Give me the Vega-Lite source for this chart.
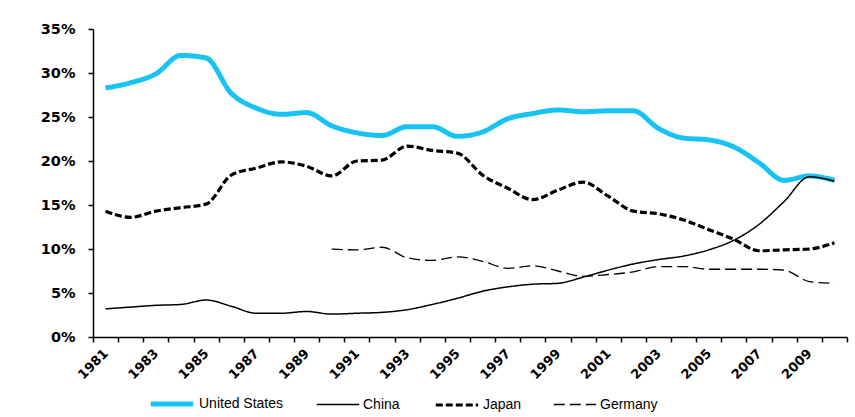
{
  "$schema": "https://vega.github.io/schema/vega-lite/v6.json",
  "width": 754,
  "height": 308,
  "autosize": "none",
  "padding": {"left": 93, "top": 29, "right": 8, "bottom": 80},
  "background": "white",
  "config": {
    "view": {"stroke": null},
    "font": "Liberation Sans",
    "axis": {"grid": false, "domainColor": "#000", "tickColor": "#000", "domainWidth": 1.5, "tickWidth": 1.5, "labelColor": "#000", "title": null}
  },
  "datasets": {
    "d": [
      {"year": 1981, "country": "United States", "v": 28.3}, {"year": 1982, "country": "United States", "v": 28.9},
      {"year": 1983, "country": "United States", "v": 29.9}, {"year": 1984, "country": "United States", "v": 32.0},
      {"year": 1985, "country": "United States", "v": 31.7}, {"year": 1986, "country": "United States", "v": 27.7},
      {"year": 1987, "country": "United States", "v": 26.0}, {"year": 1988, "country": "United States", "v": 25.3},
      {"year": 1989, "country": "United States", "v": 25.5}, {"year": 1990, "country": "United States", "v": 24.0},
      {"year": 1991, "country": "United States", "v": 23.2}, {"year": 1992, "country": "United States", "v": 22.9},
      {"year": 1993, "country": "United States", "v": 23.9}, {"year": 1994, "country": "United States", "v": 23.9},
      {"year": 1995, "country": "United States", "v": 22.8}, {"year": 1996, "country": "United States", "v": 23.3},
      {"year": 1997, "country": "United States", "v": 24.8}, {"year": 1998, "country": "United States", "v": 25.4},
      {"year": 1999, "country": "United States", "v": 25.8}, {"year": 2000, "country": "United States", "v": 25.6},
      {"year": 2001, "country": "United States", "v": 25.7}, {"year": 2002, "country": "United States", "v": 25.7},
      {"year": 2003, "country": "United States", "v": 23.7}, {"year": 2004, "country": "United States", "v": 22.6},
      {"year": 2005, "country": "United States", "v": 22.4}, {"year": 2006, "country": "United States", "v": 21.6},
      {"year": 2007, "country": "United States", "v": 19.8}, {"year": 2008, "country": "United States", "v": 17.8},
      {"year": 2009, "country": "United States", "v": 18.3}, {"year": 2010, "country": "United States", "v": 17.8},

      {"year": 1981, "country": "China", "v": 3.2}, {"year": 1982, "country": "China", "v": 3.4},
      {"year": 1983, "country": "China", "v": 3.6}, {"year": 1984, "country": "China", "v": 3.7},
      {"year": 1985, "country": "China", "v": 4.2}, {"year": 1986, "country": "China", "v": 3.5},
      {"year": 1987, "country": "China", "v": 2.7}, {"year": 1988, "country": "China", "v": 2.7},
      {"year": 1989, "country": "China", "v": 2.9}, {"year": 1990, "country": "China", "v": 2.6},
      {"year": 1991, "country": "China", "v": 2.7}, {"year": 1992, "country": "China", "v": 2.8},
      {"year": 1993, "country": "China", "v": 3.1}, {"year": 1994, "country": "China", "v": 3.7},
      {"year": 1995, "country": "China", "v": 4.4}, {"year": 1996, "country": "China", "v": 5.2},
      {"year": 1997, "country": "China", "v": 5.7}, {"year": 1998, "country": "China", "v": 6.0},
      {"year": 1999, "country": "China", "v": 6.1}, {"year": 2000, "country": "China", "v": 6.8},
      {"year": 2001, "country": "China", "v": 7.6}, {"year": 2002, "country": "China", "v": 8.3},
      {"year": 2003, "country": "China", "v": 8.8}, {"year": 2004, "country": "China", "v": 9.2},
      {"year": 2005, "country": "China", "v": 9.9}, {"year": 2006, "country": "China", "v": 11.0},
      {"year": 2007, "country": "China", "v": 12.8}, {"year": 2008, "country": "China", "v": 15.4},
      {"year": 2009, "country": "China", "v": 18.2}, {"year": 2010, "country": "China", "v": 17.7},

      {"year": 1981, "country": "Japan", "v": 14.3}, {"year": 1982, "country": "Japan", "v": 13.6},
      {"year": 1983, "country": "Japan", "v": 14.3}, {"year": 1984, "country": "Japan", "v": 14.7},
      {"year": 1985, "country": "Japan", "v": 15.1}, {"year": 1986, "country": "Japan", "v": 18.4},
      {"year": 1987, "country": "Japan", "v": 19.2}, {"year": 1988, "country": "Japan", "v": 19.9},
      {"year": 1989, "country": "Japan", "v": 19.4}, {"year": 1990, "country": "Japan", "v": 18.3},
      {"year": 1991, "country": "Japan", "v": 20.0}, {"year": 1992, "country": "Japan", "v": 20.1},
      {"year": 1993, "country": "Japan", "v": 21.7}, {"year": 1994, "country": "Japan", "v": 21.2},
      {"year": 1995, "country": "Japan", "v": 20.9}, {"year": 1996, "country": "Japan", "v": 18.4},
      {"year": 1997, "country": "Japan", "v": 16.9}, {"year": 1998, "country": "Japan", "v": 15.6},
      {"year": 1999, "country": "Japan", "v": 16.7}, {"year": 2000, "country": "Japan", "v": 17.6},
      {"year": 2001, "country": "Japan", "v": 16.0}, {"year": 2002, "country": "Japan", "v": 14.3},
      {"year": 2003, "country": "Japan", "v": 14.0}, {"year": 2004, "country": "Japan", "v": 13.3},
      {"year": 2005, "country": "Japan", "v": 12.2}, {"year": 2006, "country": "Japan", "v": 11.1},
      {"year": 2007, "country": "Japan", "v": 9.8}, {"year": 2008, "country": "Japan", "v": 9.9},
      {"year": 2009, "country": "Japan", "v": 10.0}, {"year": 2010, "country": "Japan", "v": 10.7},

      {"year": 1990, "country": "Germany", "v": 10.0}, {"year": 1991, "country": "Germany", "v": 9.9},
      {"year": 1992, "country": "Germany", "v": 10.2}, {"year": 1993, "country": "Germany", "v": 9.0},
      {"year": 1994, "country": "Germany", "v": 8.7}, {"year": 1995, "country": "Germany", "v": 9.1},
      {"year": 1996, "country": "Germany", "v": 8.6}, {"year": 1997, "country": "Germany", "v": 7.8},
      {"year": 1998, "country": "Germany", "v": 8.1}, {"year": 1999, "country": "Germany", "v": 7.5},
      {"year": 2000, "country": "Germany", "v": 6.9}, {"year": 2001, "country": "Germany", "v": 7.1},
      {"year": 2002, "country": "Germany", "v": 7.4}, {"year": 2003, "country": "Germany", "v": 8.0},
      {"year": 2004, "country": "Germany", "v": 8.0}, {"year": 2005, "country": "Germany", "v": 7.7},
      {"year": 2006, "country": "Germany", "v": 7.7}, {"year": 2007, "country": "Germany", "v": 7.7},
      {"year": 2008, "country": "Germany", "v": 7.6}, {"year": 2009, "country": "Germany", "v": 6.3},
      {"year": 2010, "country": "Germany", "v": 6.1}
    ]
  },
  "data": {"name": "d"},
  "mark": {"type": "line", "interpolate": "monotone"},
  "encoding": {
    "x": {
      "field": "year", "type": "ordinal", "bandPosition": 0.5,
      "scale": {"type": "band", "paddingInner": 0, "paddingOuter": 0},
      "axis": {
        "tickBand": "extent", "labelAngle": -45, "labelAlign": "right", "labelBaseline": "middle",
        "labelExpr": "(datum.value - 1981) % 2 == 0 ? datum.value : ''",
        "labelFont": "DejaVu Sans", "labelFontWeight": "bold", "labelFontSize": 13, "labelPadding": 9, "tickSize": 5
      }
    },
    "y": {
      "field": "v", "type": "quantitative",
      "scale": {"domain": [0, 35]},
      "axis": {
        "values": [0, 5, 10, 15, 20, 25, 30, 35],
        "labelExpr": "datum.value + '%'",
        "labelFont": "DejaVu Sans", "labelFontWeight": "bold", "labelFontSize": 14.5, "labelPadding": 13, "tickSize": 5
      }
    },
    "color": {
      "field": "country", "type": "nominal", "title": null,
      "scale": {"domain": ["United States", "China", "Japan", "Germany"], "range": ["#17C3F2", "#000000", "#000000", "#000000"]},
      "legend": {
        "orient": "none", "direction": "horizontal", "legendX": 55, "legendY": 351,
        "symbolType": "stroke", "symbolSize": 1800, "labelFontSize": 14, "labelFont": "Liberation Sans",
        "labelOffset": 3, "columnPadding": 29, "labelColor": "#000"
      }
    },
    "strokeDash": {
      "field": "country", "type": "nominal", "title": null,
      "scale": {"domain": ["United States", "China", "Japan", "Germany"], "range": [[1, 0], [1, 0], [7, 3], [11, 5]]}
    },
    "strokeWidth": {
      "field": "country", "type": "nominal", "title": null,
      "scale": {"type": "ordinal", "domain": ["United States", "China", "Japan", "Germany"], "range": [5, 1.5, 3.2, 1.3]}
    }
  }
}
